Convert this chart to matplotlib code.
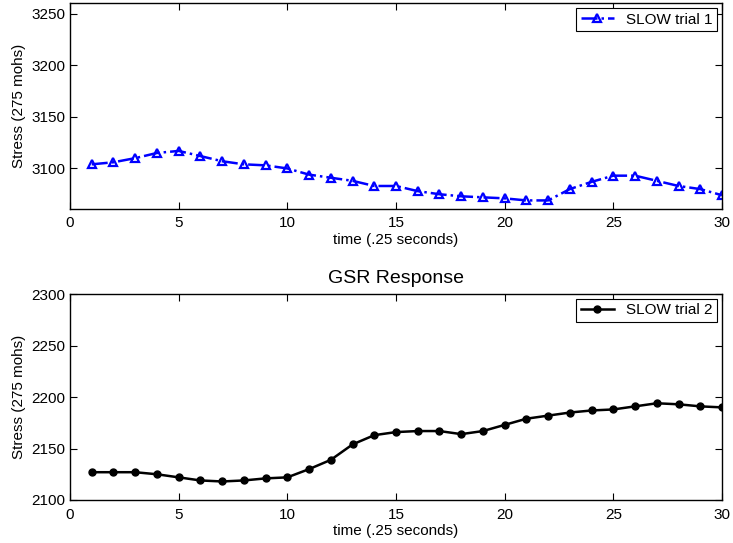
import matplotlib
matplotlib.use("Agg")
from matplotlib import pyplot as plt

plt.rcParams['font.family'] = ['Liberation Sans', 'DejaVu Sans']

# time steps (.25 s)
t = list(range(1, 31))

# SLOW trial 1
trial1 = [3104, 3106, 3110, 3115, 3117, 3112, 3107, 3104, 3103, 3100,
          3094, 3091, 3088, 3083, 3083, 3078, 3075, 3073, 3072, 3071,
          3069, 3069, 3080, 3087, 3093, 3093, 3088, 3083, 3080, 3074]

# SLOW trial 2
trial2 = [2127, 2127, 2127, 2125, 2122, 2119, 2118, 2119, 2121, 2122,
          2130, 2139, 2154, 2163, 2166, 2167, 2167, 2164, 2167, 2173,
          2179, 2182, 2185, 2187, 2188, 2191, 2194, 2193, 2191, 2190]

fig = plt.figure(figsize=(7.33, 5.43), dpi=100)
ax1 = fig.add_axes([0.0955, 0.6157, 0.8895, 0.378])
ax2 = fig.add_axes([0.0955, 0.0792, 0.8895, 0.379])

ax1.plot(t, trial1, linestyle='-.', color='blue', lw=1.8, marker='^',
         markersize=6, markerfacecolor='none', markeredgewidth=1.6,
         label='SLOW trial 1')
ax1.set_xlim(0, 30)
ax1.set_ylim(3061, 3260)
ax1.set_yticks([3100, 3150, 3200, 3250])
ax1.set_xticks(range(0, 31, 5))

ax2.plot(t, trial2, linestyle='-', color='black', lw=1.8, marker='o',
         markersize=5, label='SLOW trial 2')
ax2.set_xlim(0, 30)
ax2.set_ylim(2100, 2300)
ax2.set_yticks(range(2100, 2301, 50))
ax2.set_xticks(range(0, 31, 5))
ax2.set_title('GSR Response', fontsize=14, pad=8)

for ax in (ax1, ax2):
    ax.tick_params(direction='in', top=True, right=True, labelsize=11,
                   length=5, width=0.8)
    ax.tick_params(axis='x', pad=5.5)
    ax.set_xlabel('time (.25 seconds)', fontsize=11, labelpad=2)
    ax.set_ylabel('Stress (275 mohs)', fontsize=11, labelpad=4)
    for s in ax.spines.values():
        s.set_linewidth(1.0)
    leg = ax.legend(loc='upper right', fontsize=11, fancybox=False,
                    framealpha=1, edgecolor='black', borderaxespad=0.3,
                    handlelength=2.2, borderpad=0.3)
    leg.get_frame().set_linewidth(0.8)

fig.savefig('out.png', dpi=100)
